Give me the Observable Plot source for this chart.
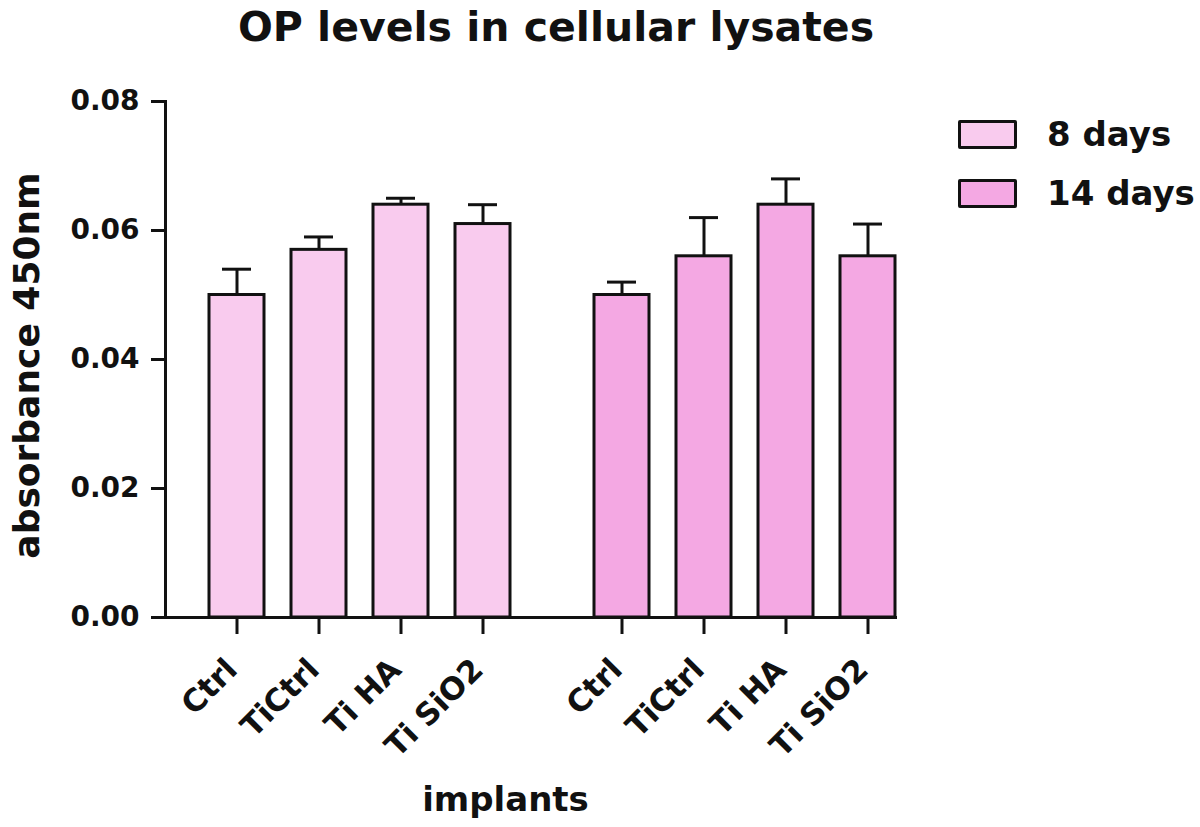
<!DOCTYPE html>
<html>
<head>
<meta charset="utf-8">
<script src="https://cdn.jsdelivr.net/npm/d3@7"></script>
<script src="https://cdn.jsdelivr.net/npm/@observablehq/plot@0.6"></script>
<style>
  html, body { margin: 0; padding: 0; background: #fff; }
  #wrap { position: relative; width: 1200px; height: 827px; font-family: "DejaVu Sans", sans-serif; font-weight: bold; color: #111; }
  #title { height: 55px; line-height: 55px; width: 1112px; text-align: center; font-size: 41px; }
  #legend { position: absolute; left: 958px; top: 120px; }
  .item { display: flex; align-items: center; height: 29px; margin-bottom: 30px; }
  .sw { width: 53px; height: 23px; border: 3px solid #111; border-radius: 2px; box-sizing: content-box; }
  .lab { margin-left: 30px; font-size: 34px; line-height: 29px; }
</style>
</head>
<body>
<div id="wrap">
  <div id="title">OP levels in cellular lysates</div>
  <div id="chart"></div>
  <div id="legend"></div>
</div>
<script>
const groups = ["8 days", "14 days"];
const implants = ["Ctrl", "TiCtrl", "Ti HA", "Ti SiO2"];
const mean8 = [0.050, 0.057, 0.064, 0.061];
const sd8 = [0.004, 0.002, 0.001, 0.003];
const mean14 = [0.050, 0.056, 0.064, 0.056];
const sd14 = [0.002, 0.006, 0.004, 0.005];
const yTicks = [0, 0.02, 0.04, 0.06, 0.08];
const colors = ["#f9cbee", "#f4a8e3"];
const yLabel = "absorbance 450nm";
const xLabel = "implants";

const rows = [];
implants.forEach((imp, i) => rows.push({group: groups[0], implant: imp, mean: mean8[i], sd: sd8[i]}));
implants.forEach((imp, i) => rows.push({group: groups[1], implant: imp, mean: mean14[i], sd: sd14[i]}));

const chart = Plot.plot({
  width: 1200,
  height: 772,
  marginTop: 46,
  marginBottom: 210,
  marginLeft: 165,
  marginRight: 305,
  style: {fontFamily: "DejaVu Sans, sans-serif", fontWeight: "bold", fontSize: "28px", color: "#111", background: "#fff", overflow: "visible"},
  fx: {domain: groups, paddingInner: 0.104, paddingOuter: 0, axis: null, label: null},
  x: {domain: implants, paddingInner: 0.33, paddingOuter: 0.268, align: 1, label: null},
  y: {domain: [0, 0.08], label: null},
  color: {domain: groups, range: colors},
  marks: [
    Plot.ruleX(rows, {fx: "group", x: "implant", y1: "mean", y2: d => d.mean + d.sd, stroke: "#111", strokeWidth: 3}),
    Plot.barY(rows, {fx: "group", x: "implant", y: "mean", fill: "group", stroke: "#111", strokeWidth: 3}),
    Plot.tickY(rows, {fx: "group", x: "implant", y: d => d.mean + d.sd, insetLeft: 13, insetRight: 13, stroke: "#111", strokeWidth: 3}),
    Plot.axisY({ticks: yTicks, tickFormat: d3.format(".2f"), tickSize: 14, tickPadding: 12, strokeWidth: 3, fontSize: 28, label: null}),
    Plot.axisX({tickSize: 17, tickFormat: () => "", strokeWidth: 3, label: null}),
    Plot.axisX({tickSize: 0, tickRotate: -45, tickPadding: 47, dx: -5, fontSize: 31, label: null}),
    Plot.frame({anchor: "left", facet: "super", stroke: "#111", strokeWidth: 3}),
    Plot.frame({anchor: "bottom", facet: "super", stroke: "#111", strokeWidth: 3}),
    Plot.text([yLabel], {text: d => d, frameAnchor: "left", textAnchor: "middle", rotate: -90, dx: -138, dy: 6, facet: "super", fontSize: 36, fill: "#111"}),
    Plot.text([xLabel], {text: d => d, frameAnchor: "bottom", textAnchor: "middle", dx: -25, dy: 193, facet: "super", fontSize: 34, fill: "#111"})
  ]
});
document.getElementById("chart").appendChild(chart);

const legend = document.getElementById("legend");
groups.forEach((g, i) => {
  const item = document.createElement("div");
  item.className = "item";
  const sw = document.createElement("div");
  sw.className = "sw";
  sw.style.background = colors[i];
  const lab = document.createElement("span");
  lab.className = "lab";
  lab.textContent = g;
  item.appendChild(sw);
  item.appendChild(lab);
  legend.appendChild(item);
});
</script>
</body>
</html>
